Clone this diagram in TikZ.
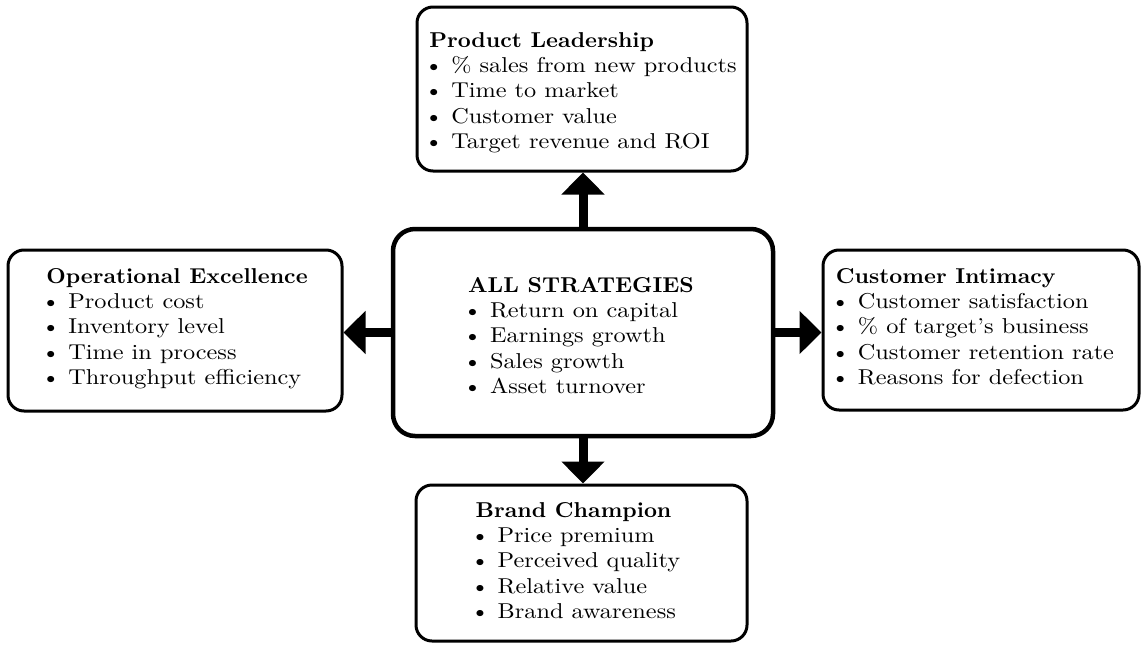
\documentclass[tikz,border=0pt]{standalone}
\usepackage{fontspec}
\setmainfont{lmroman10-regular.otf}[FakeStretch=1.13]
\newfontfamily\headfont{lmroman10-bold.otf}[FakeStretch=1.05]
\usetikzlibrary{arrows.meta}

\tikzset{
  box/.style={draw, line width=3pt, rounded corners=16pt, fill=white, inner sep=0pt},
  hubbox/.style={draw, line width=4.5pt, rounded corners=22pt, fill=white, inner sep=0pt},
  blockarrow/.style={line width=9pt, -{Triangle[width=42pt,length=22pt]}},
  txt/.style={anchor=north, inner sep=0pt, align=left,
              font=\fontsize{21.5}{25.3}\selectfont},
}
% one bulleted entry, pulled left so the dot lines up with the heading
\newcommand{\itm}[1]{\hspace*{-5pt}\textbullet\ #1}

\begin{document}
\begin{tikzpicture}[x=1pt,y=-1pt]
  \useasboundingbox (0,0) rectangle (1142,645);

  % hub box and the four strategy boxes
  \node[hubbox, minimum width=380pt, minimum height=207pt] (hub) at (583,332.5) {};
  \node[box, minimum width=330pt, minimum height=164pt] (lead) at (582,89) {};
  \node[box, minimum width=334pt, minimum height=161pt] (oper) at (175,330.5) {};
  \node[box, minimum width=316pt, minimum height=160pt] (cust) at (981,330) {};
  \node[box, minimum width=331pt, minimum height=156pt] (brand) at (581.5,563) {};

  % connectors from the hub outwards
  \draw[blockarrow] (hub.north) -- (hub.north |- lead.south);
  \draw[blockarrow] (hub.west) -- (hub.west -| oper.east);
  \draw[blockarrow] (hub.east) -- (hub.east -| cust.west);
  \draw[blockarrow] (hub.south) -- (hub.south |- brand.north);

  % box contents: heading baseline sits 15pt below the node top
  \node[txt] (hubtext) at (581,277) {{\headfont ALL STRATEGIES}\\
    \itm{Return on capital}\\
    \itm{Earnings growth}\\
    \itm{Sales growth}\\
    \itm{Asset turnover}};

  \node[txt] (leadtext) at (583,32) {{\headfont Product Leadership}\\
    \itm{\% sales from new products}\\
    \itm{Time to market}\\
    \itm{Customer value}\\
    \itm{Target revenue and ROI}};

  \node[txt] (opertext) at (177,268) {{\headfont Operational Excellence}\\
    \itm{Product cost}\\
    \itm{Inventory level}\\
    \itm{Time in process}\\
    \itm{Throughput efficiency}};

  \node[txt] (custtext) at (975,268) {{\headfont Customer Intimacy}\\
    \itm{Customer satisfaction}\\
    \itm{\% of target's business}\\
    \itm{Customer retention rate}\\
    \itm{Reasons for defection}};

  \node[txt] (brandtext) at (578,502) {{\headfont Brand Champion}\\
    \itm{Price premium}\\
    \itm{Perceived quality}\\
    \itm{Relative value}\\
    \itm{Brand awareness}};
\end{tikzpicture}
\end{document}
